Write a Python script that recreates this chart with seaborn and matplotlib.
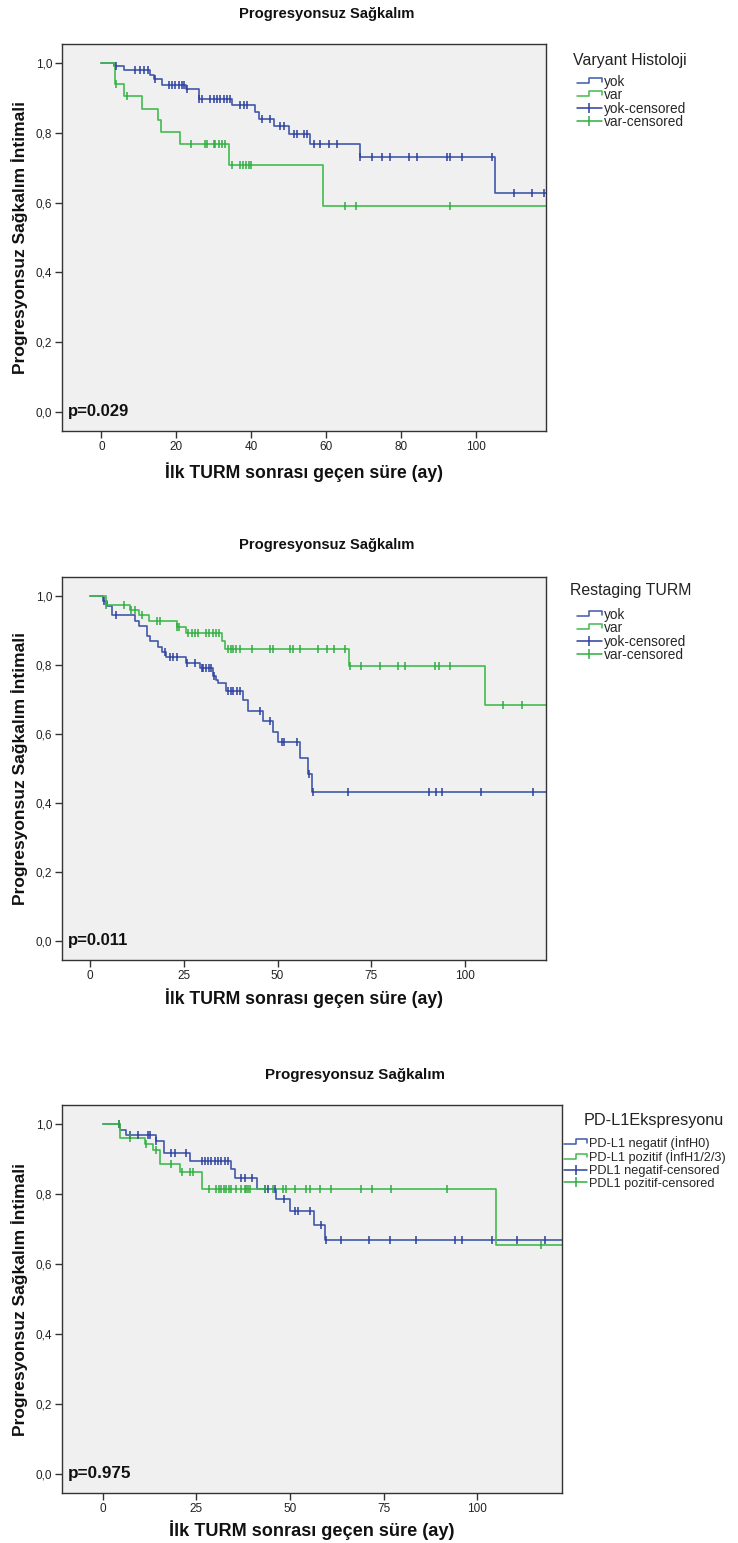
import numpy as np
import pandas as pd
import seaborn as sns
import matplotlib.pyplot as plt
from matplotlib.lines import Line2D
from matplotlib.legend_handler import HandlerBase
from matplotlib.ticker import FuncFormatter

# ---- Panel 1: Varyant Histoloji ----
p1_yok_t = [0, 3.5, 6.0, 13.1, 14.0, 16.2, 22.7, 26.0, 34.8, 41.1, 42.1, 46.0, 50.0, 55.7, 69.1, 104.9]
p1_yok_s = [1.0, 0.991, 0.980, 0.967, 0.956, 0.937, 0.925, 0.896, 0.880, 0.861, 0.840, 0.820, 0.797, 0.768, 0.730, 0.627]
p1_yok_cens = [4.0, 9.1, 10.4, 11.3, 12.4, 14.4, 18.0, 18.9, 19.7, 20.6, 21.5, 22.1, 22.9, 26.0, 26.9,
               29.1, 30.0, 30.8, 31.7, 32.6, 33.5, 34.4, 37.1, 38.0, 38.8, 42.8, 45.1, 47.7, 48.6, 51.3,
               52.2, 54.0, 54.8, 56.6, 58.4, 60.6, 62.9, 69.1, 72.2, 74.9, 77.1, 82.0, 84.2, 92.2, 93.1,
               96.2, 104.1, 110.0, 114.8, 118.0]
p1_var_t = [0, 3.7, 6.0, 10.8, 15.1, 15.9, 21.1, 34.0, 59.0]
p1_var_s = [1.0, 0.939, 0.906, 0.870, 0.837, 0.802, 0.768, 0.708, 0.591]
p1_var_cens = [4.0, 6.9, 24.0, 27.7, 28.2, 30.0, 30.4, 31.3, 32.2, 33.1, 34.8, 37.1, 37.8, 38.5, 39.3,
               40.0, 65.1, 67.9, 92.9]

# ---- Panel 2: Restaging TURM ----
p2_yok_t = [0, 3.4, 4.5, 6.0, 12.0, 13.1, 15.3, 16.0, 18.2, 19.1, 20.3, 25.6, 29.3, 32.7, 33.6, 34.2,
            36.4, 40.9, 42.2, 46.0, 48.9, 50.2, 56.0, 58.0, 59.3]
p2_yok_s = [1.0, 0.986, 0.972, 0.944, 0.927, 0.912, 0.884, 0.869, 0.853, 0.838, 0.823, 0.806, 0.790,
            0.769, 0.757, 0.748, 0.724, 0.699, 0.668, 0.639, 0.607, 0.576, 0.530, 0.485, 0.433]
p2_yok_cens = [3.8, 7.1, 20.0, 21.3, 22.2, 23.1, 26.0, 28.0, 29.8, 30.2, 30.9, 31.8, 32.4, 33.1, 36.9,
               37.5, 38.2, 39.1, 40.0, 45.2, 48.0, 51.1, 51.7, 55.1, 58.3, 59.5, 68.8, 90.4, 92.3, 93.9,
               104.3, 118.1]
p2_var_t = [0, 4.2, 10.7, 13.1, 15.8, 23.1, 25.6, 35.1, 36.0, 69.1, 105.2]
p2_var_s = [1.0, 0.974, 0.959, 0.944, 0.927, 0.911, 0.893, 0.869, 0.845, 0.796, 0.683]
p2_var_cens = [4.2, 9.2, 10.9, 12.0, 14.0, 17.8, 18.7, 23.1, 23.8, 26.2, 27.1, 28.0, 28.9, 30.9, 31.8,
               32.7, 33.6, 34.5, 36.9, 37.5, 38.2, 38.9, 40.0, 43.1, 48.0, 48.9, 53.2, 54.0, 56.0, 60.9,
               63.1, 65.1, 68.0, 69.2, 72.2, 77.2, 82.0, 84.0, 92.0, 92.9, 96.0, 110.0, 115.1]

# ---- Panel 3: PD-L1 Ekspresyonu ----
p3_neg_t = [0, 4.5, 6.3, 14.3, 16.4, 23.2, 34.3, 35.2, 41.2, 46.3, 50.1, 56.3, 59.2]
p3_neg_s = [1.0, 0.983, 0.968, 0.952, 0.917, 0.896, 0.872, 0.845, 0.816, 0.786, 0.752, 0.712, 0.670]
p3_neg_cens = [4.4, 7.2, 9.4, 12.1, 12.5, 14.3, 18.3, 19.2, 22.3, 26.4, 27.2, 28.1, 29.0, 29.9, 30.8,
               31.6, 32.5, 33.4, 37.0, 37.9, 39.9, 43.2, 44.1, 45.9, 48.3, 51.2, 52.1, 55.2, 58.3, 59.7,
               63.5, 71.0, 76.8, 83.7, 93.9, 96.0, 104.0, 110.6, 118.0]
p3_poz_t = [0, 4.5, 11.2, 13.4, 15.2, 20.5, 26.4, 105.0]
p3_poz_s = [1.0, 0.962, 0.944, 0.925, 0.885, 0.864, 0.816, 0.655]
p3_poz_cens = [4.4, 7.2, 11.5, 14.3, 18.3, 21.2, 23.4, 24.1, 28.4, 30.3, 31.0, 31.6, 32.3, 33.0, 33.7,
               34.3, 35.5, 37.0, 37.9, 38.3, 38.8, 39.2, 43.2, 45.4, 48.1, 49.0, 51.2, 54.3, 55.2, 58.0,
               61.0, 69.0, 71.9, 77.0, 91.9, 117.0]

last_followup = 125

BLUE = "#4058aa"
BLUE_C = "#2c3f9e"
GREEN = "#42bb50"
GREEN_C = "#2fae40"

sns.set_style("ticks")
plt.rcParams["font.family"] = ["Liberation Sans", "DejaVu Sans"]

W, H = 738, 1543
fig = plt.figure(figsize=(W / 100, H / 100), dpi=100)


def step_value(t, s, x):
    idx = np.searchsorted(np.array(t), np.array(x), side="right") - 1
    return np.array(s)[idx]


def draw_km(ax, t, s, cens, color, ccolor):
    df = pd.DataFrame({"t": list(t) + [last_followup], "s": list(s) + [s[-1]]})
    sns.lineplot(data=df, x="t", y="s", drawstyle="steps-post", color=color, lw=1.2,
                 estimator=None, sort=False, ax=ax, legend=False)
    cdf = pd.DataFrame({"t": cens, "s": step_value(t, s, cens)})
    sns.scatterplot(data=cdf, x="t", y="s", marker="|", s=30, color=ccolor, linewidth=1.1,
                    ax=ax, legend=False, zorder=3)


class StepHandler(HandlerBase):
    def create_artists(self, legend, orig_handle, xdescent, ydescent, width, height, fontsize, trans):
        x0, y0 = -xdescent, -ydescent
        xs = [x0, x0 + 0.5 * width, x0 + 0.5 * width, x0 + width, x0 + width]
        ys = [y0 + 0.3 * height, y0 + 0.3 * height, y0 + 0.85 * height, y0 + 0.85 * height, y0 + 0.45 * height]
        return [Line2D(xs, ys, color=orig_handle.get_color(), lw=1.1, transform=trans)]


def make_axes(box, xlim, xstep):
    left, top, right, bottom = box
    ax = fig.add_axes([left / W, 1 - bottom / H, (right - left) / W, (bottom - top) / H])
    ax.set_facecolor("#f0f0f0")
    ax.set_xlim(*xlim)
    ax.set_ylim(-0.055, 1.055)
    ax.set_xticks(np.arange(0, 101, xstep))
    ax.set_yticks(np.arange(0, 1.01, 0.2))
    ax.yaxis.set_major_formatter(FuncFormatter(lambda v, p: f"{v:.1f}".replace(".", ",")))
    ax.tick_params(direction="out", length=5, width=1, color="#333333", labelsize=8.5,
                   labelcolor="#222222", pad=2)
    for sp in ax.spines.values():
        sp.set_visible(True)
        sp.set_color("#333333")
        sp.set_linewidth(1)
    return ax


panels = [
    dict(box=(62, 44, 546, 431), xlim=(-10.5, 118.6), xstep=20,
         curves=[(p1_yok_t, p1_yok_s, p1_yok_cens), (p1_var_t, p1_var_s, p1_var_cens)],
         p="p=0.029", title_xy=(327, 14), xlab_y=472,
         leg_title="Varyant Histoloji", leg_title_xy=(630, 60), leg_xy=(577, 75),
         labels=["yok", "var", "yok-censored", "var-censored"], fs=1.0, leg_fs=9.8, leg_sp=-0.05),
    dict(box=(62, 577, 546, 960), xlim=(-7.4, 121.5), xstep=25,
         curves=[(p2_yok_t, p2_yok_s, p2_yok_cens), (p2_var_t, p2_var_s, p2_var_cens)],
         p="p=0.011", title_xy=(327, 545), xlab_y=998,
         leg_title="Restaging TURM", leg_title_xy=(631, 591), leg_xy=(577, 608),
         labels=["yok", "var", "yok-censored", "var-censored"], fs=1.0, leg_fs=9.8, leg_sp=-0.05),
    dict(box=(62, 1105, 562, 1493), xlim=(-10.9, 122.6), xstep=25,
         curves=[(p3_neg_t, p3_neg_s, p3_neg_cens), (p3_poz_t, p3_poz_s, p3_poz_cens)],
         p="p=0.975", title_xy=(355, 1075), xlab_y=1530,
         leg_title="PD-L1Ekspresyonu", leg_title_xy=(654, 1120), leg_xy=(564, 1136),
         labels=["PD-L1 negatif (İnfH0)", "PD-L1 pozitif (İnfH1/2/3)",
                 "PDL1 negatif-censored", "PDL1 pozitif-censored"], fs=1.03, leg_fs=9.2, leg_sp=0.05),
]

for pn in panels:
    ax = make_axes(pn["box"], pn["xlim"], pn["xstep"])
    (t1, s1, c1), (t2, s2, c2) = pn["curves"]
    draw_km(ax, t1, s1, c1, BLUE, BLUE_C)
    draw_km(ax, t2, s2, c2, GREEN, GREEN_C)
    ax.set_xlabel("")
    ax.set_ylabel("")
    fs = pn["fs"]
    ax.text(0.012, 0.05, pn["p"], transform=ax.transAxes, ha="left", va="center",
            fontsize=12 * fs, fontweight="bold", color="#111111")

    left, top, right, bottom = pn["box"]
    fig.text(pn["title_xy"][0] / W, 1 - pn["title_xy"][1] / H, "Progresyonsuz Sağkalım",
             ha="center", va="center", fontsize=10.6 * fs, fontweight="bold", color="#111111")
    fig.text((left + right) / 2 / W, 1 - pn["xlab_y"] / H, "İlk TURM sonrası geçen süre (ay)",
             ha="center", va="center", fontsize=12.7 * fs, fontweight="bold", color="#111111")
    fig.text(20 / W, 1 - (top + bottom) / 2 / H, "Progresyonsuz Sağkalım İntimali", rotation=90,
             ha="center", va="center", fontsize=12.5, fontweight="bold", color="#111111")

    fig.text(pn["leg_title_xy"][0] / W, 1 - pn["leg_title_xy"][1] / H, pn["leg_title"],
             ha="center", va="center", fontsize=11.4 * fs, color="#222222")
    h1 = Line2D([], [], color=BLUE)
    h2 = Line2D([], [], color=GREEN)
    h3 = Line2D([], [], color=BLUE_C, lw=1.1, marker="|", markersize=7, markeredgewidth=1.1)
    h4 = Line2D([], [], color=GREEN_C, lw=1.1, marker="|", markersize=7, markeredgewidth=1.1)
    ax.legend([h1, h2, h3, h4], pn["labels"], handler_map={h1: StepHandler(), h2: StepHandler()},
              loc="upper left", bbox_to_anchor=(pn["leg_xy"][0] / W, 1 - pn["leg_xy"][1] / H),
              bbox_transform=fig.transFigure, frameon=False,
              fontsize=pn["leg_fs"], handlelength=1.8, handletextpad=0.15,
              labelspacing=pn["leg_sp"], borderpad=0, borderaxespad=0)

fig.savefig("out.png", dpi=100)
